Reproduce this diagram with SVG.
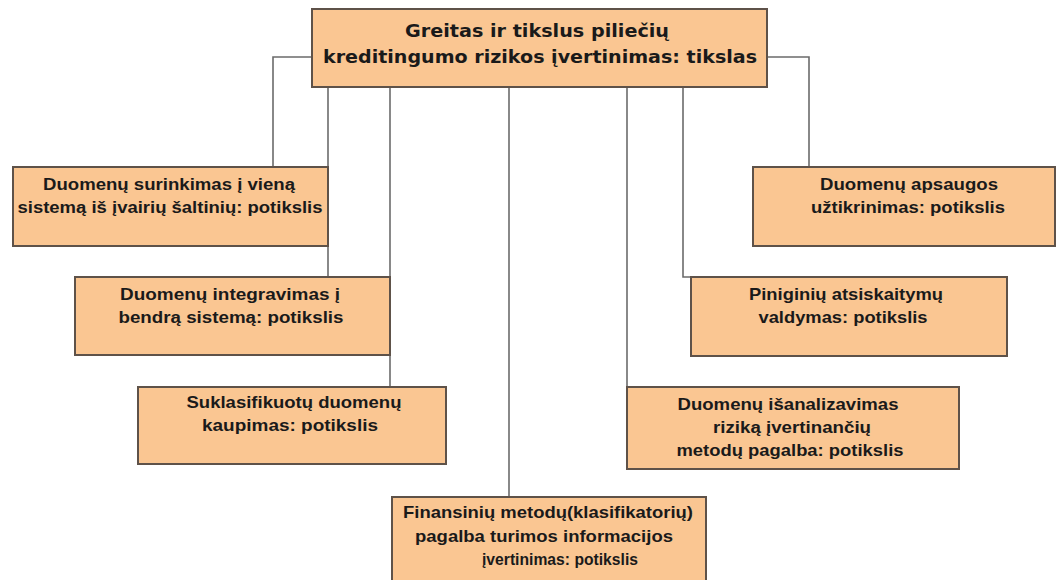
<svg xmlns="http://www.w3.org/2000/svg" width="1057" height="580" viewBox="0 0 1057 580">
  <style>
    .box { fill: #FAC692; stroke: #5E5249; stroke-width: 2; }
    .wire { fill: none; stroke: #6B6B6B; stroke-width: 1.6; }
    .title { font-family: "DejaVu Sans", Verdana, sans-serif; font-weight: bold; font-size: 17px; fill: #1A1A1A; text-anchor: middle; }
    .lbl { font-family: "Liberation Sans", Arial, sans-serif; font-weight: bold; font-size: 16.5px; fill: #1A1A1A; text-anchor: middle; }
  </style>
  <rect width="1057" height="580" fill="#FFFFFF"/>

  <!-- connectors from the goal box to each sub-goal -->
  <g id="connectors">
    <polyline class="wire" points="312,57 273,57 273,167"/>
    <polyline class="wire" points="767,57 809,57 809,167"/>
    <line class="wire" x1="328" y1="87" x2="328" y2="277"/>
    <line class="wire" x1="390" y1="87" x2="390" y2="387"/>
    <line class="wire" x1="509" y1="87" x2="509" y2="497"/>
    <line class="wire" x1="627" y1="87" x2="627" y2="387"/>
    <polyline class="wire" points="683,87 683,277 691,277"/>
  </g>

  <g id="goal">
    <rect class="box" x="312" y="9" width="455" height="78"/>
    <text class="title" x="537" y="37" textLength="264" lengthAdjust="spacingAndGlyphs">Greitas ir tikslus piliečių</text>
    <text class="title" x="540" y="63" textLength="434" lengthAdjust="spacingAndGlyphs">kreditingumo rizikos įvertinimas: tikslas</text>
  </g>

  <g id="collect">
    <rect class="box" x="13" y="167" width="315" height="79"/>
    <text class="lbl" x="169" y="190" textLength="252" lengthAdjust="spacingAndGlyphs">Duomenų surinkimas į vieną</text>
    <text class="lbl" x="170" y="213" textLength="305" lengthAdjust="spacingAndGlyphs">sistemą iš įvairių šaltinių: potikslis</text>
  </g>

  <g id="integrate">
    <rect class="box" x="75" y="277" width="315" height="78"/>
    <text class="lbl" x="230" y="300" textLength="220" lengthAdjust="spacingAndGlyphs">Duomenų integravimas į</text>
    <text class="lbl" x="231" y="323" textLength="225" lengthAdjust="spacingAndGlyphs">bendrą sistemą: potikslis</text>
  </g>

  <g id="store">
    <rect class="box" x="138" y="387" width="308" height="77"/>
    <text class="lbl" x="294" y="408" textLength="215" lengthAdjust="spacingAndGlyphs">Suklasifikuotų duomenų</text>
    <text class="lbl" x="290" y="431" textLength="176" lengthAdjust="spacingAndGlyphs">kaupimas: potikslis</text>
  </g>

  <g id="assess">
    <rect class="box" x="392" y="497" width="314" height="95"/>
    <text class="lbl" x="548" y="518" textLength="290" lengthAdjust="spacingAndGlyphs">Finansinių metodų(klasifikatorių)</text>
    <text class="lbl" x="544" y="542" textLength="258" lengthAdjust="spacingAndGlyphs">pagalba turimos informacijos</text>
    <text class="lbl" x="560" y="565" textLength="156" lengthAdjust="spacingAndGlyphs">įvertinimas: potikslis</text>
  </g>

  <g id="analyse">
    <rect class="box" x="627" y="387" width="332" height="82"/>
    <text class="lbl" x="788" y="410" textLength="221" lengthAdjust="spacingAndGlyphs">Duomenų išanalizavimas</text>
    <text class="lbl" x="792" y="433" textLength="158" lengthAdjust="spacingAndGlyphs">riziką įvertinančių</text>
    <text class="lbl" x="790" y="456" textLength="227" lengthAdjust="spacingAndGlyphs">metodų pagalba: potikslis</text>
  </g>

  <g id="payments">
    <rect class="box" x="691" y="277" width="316" height="79"/>
    <text class="lbl" x="846" y="300" textLength="194" lengthAdjust="spacingAndGlyphs">Piniginių atsiskaitymų</text>
    <text class="lbl" x="843" y="323" textLength="169" lengthAdjust="spacingAndGlyphs">valdymas: potikslis</text>
  </g>

  <g id="protect">
    <rect class="box" x="753" y="167" width="302" height="79"/>
    <text class="lbl" x="909" y="190" textLength="178" lengthAdjust="spacingAndGlyphs">Duomenų apsaugos</text>
    <text class="lbl" x="908" y="213" textLength="194" lengthAdjust="spacingAndGlyphs">užtikrinimas: potikslis</text>
  </g>
</svg>
